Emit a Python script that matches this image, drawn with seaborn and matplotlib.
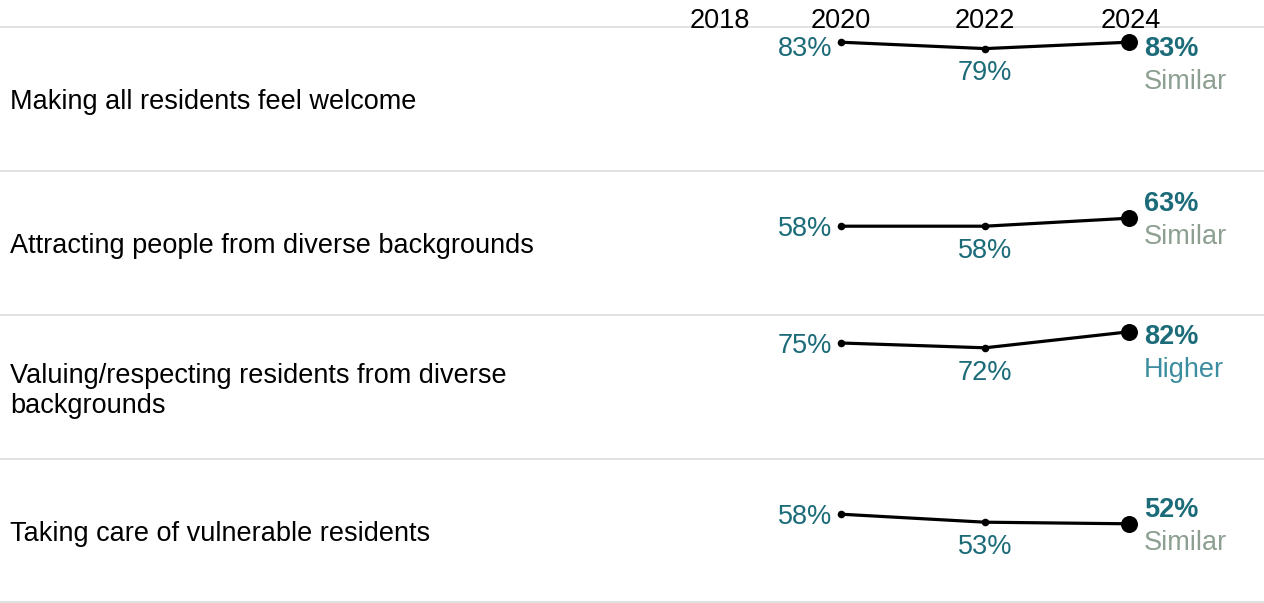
import matplotlib
matplotlib.use("Agg")
import matplotlib.pyplot as plt
import matplotlib.transforms as mtransforms
from matplotlib.lines import Line2D
import seaborn as sns
import pandas as pd

sns.set_theme(style="white")
plt.rcParams['font.family'] = ['Liberation Sans', 'DejaVu Sans']

# ---- data ----
header_years = [2018, 2020, 2022, 2024]
years = [2020, 2022, 2024]
categories = [
    "Making all residents feel welcome",
    "Attracting people from diverse backgrounds",
    "Valuing/respecting residents from diverse\nbackgrounds",
    "Taking care of vulnerable residents",
]
welcome = [83, 79, 83]
diverse_attract = [58, 58, 63]
diverse_value = [75, 72, 82]
vulnerable = [58, 53, 52]
series = [welcome, diverse_attract, diverse_value, vulnerable]
status = ["Similar", "Similar", "Higher", "Similar"]

# ---- style ----
W, H = 1264, 603
HEADER = 27
ROW = 144
TEAL = "#1c6b79"
STATUS_COL = {"Similar": "#8c9f90", "Higher": "#3b8d9f"}
GRID = "#d9d9d9"
PX_PER_UNIT = 1.6
X0 = 2020 - 841 / 72.0
X1 = X0 + W / 72.0
FS = 19.5
HALF_CAP = 9.7


def to_v(px):
    return (148 - px) / PX_PER_UNIT


def to_px(v):
    return 148 - PX_PER_UNIT * v


fig = plt.figure(figsize=(W / 100, H / 100), dpi=100)

axes = []
for i, (cat, vals, st) in enumerate(zip(categories, series, status)):
    bottom = (H - HEADER - ROW * (i + 1)) / H
    ax = fig.add_axes([0, bottom, 1, ROW / H])
    ax.set_xlim(X0, X1)
    ax.set_ylim(to_v(ROW), to_v(0))
    ax.axis("off")
    axes.append(ax)

    df = pd.DataFrame({"year": years, "value": vals})
    sns.lineplot(data=df, x="year", y="value", color="black", linewidth=2.3,
                 ax=ax, legend=False)
    sns.scatterplot(data=df.iloc[:2], x="year", y="value", color="black", s=30,
                    edgecolor="black", linewidth=0, ax=ax, legend=False, zorder=3)
    sns.scatterplot(data=df.iloc[2:], x="year", y="value", color="black", s=150,
                    edgecolor="black", linewidth=0, ax=ax, legend=False, zorder=3)

    # row label (baseline refers to the last line)
    n = cat.count("\n") + 1
    base_px = ROW / 2 + HALF_CAP + (n - 1) * 16.5
    ax.text(10 / 72.0 + X0, to_v(base_px), cat, ha="left", va="baseline",
            fontsize=FS, color="black", linespacing=1.22)

    p = [to_px(v) for v in vals]
    # 2020 label
    c = max(p[0], 19.5)
    ax.annotate(f"{vals[0]}%", xy=(years[0], to_v(c + HALF_CAP)), xytext=(-9, 0),
                textcoords="offset pixels", ha="right", va="baseline",
                fontsize=FS, color=TEAL)
    # 2022 label
    ax.annotate(f"{vals[1]}%", xy=(years[1], to_v(p[1] + 22 + HALF_CAP)),
                xytext=(0, 0), textcoords="offset pixels", ha="center",
                va="baseline", fontsize=FS, color=TEAL)
    # 2024 label + status
    c = max(p[2] - 16.5, 19.5)
    ax.annotate(f"{vals[2]}%", xy=(years[2], to_v(c + HALF_CAP)), xytext=(15, 0),
                textcoords="offset pixels", ha="left", va="baseline",
                fontsize=FS, color=TEAL, fontweight="bold")
    ax.annotate(st, xy=(years[2], to_v(c + HALF_CAP + 32.5)), xytext=(15, 0),
                textcoords="offset pixels", ha="left", va="baseline",
                fontsize=FS, color=STATUS_COL[st])

# separator lines
for k in range(5):
    y = (H - HEADER - ROW * k) / H
    if k == 4:
        y = 1.0 / H
    fig.add_artist(Line2D([0, 1], [y, y], transform=fig.transFigure,
                          color=GRID, linewidth=1.1, zorder=0))

# header years
trans = mtransforms.blended_transform_factory(axes[0].transData, fig.transFigure)
label_shift = {2018: 0.31, 2020: 0.0, 2022: 0.0, 2024: 0.02}
for yr in header_years:
    fig.text(yr + label_shift[yr], (H - 28) / H, str(yr), transform=trans,
             ha="center", va="baseline", fontsize=FS, color="black")

fig.savefig("out.png", dpi=100)
